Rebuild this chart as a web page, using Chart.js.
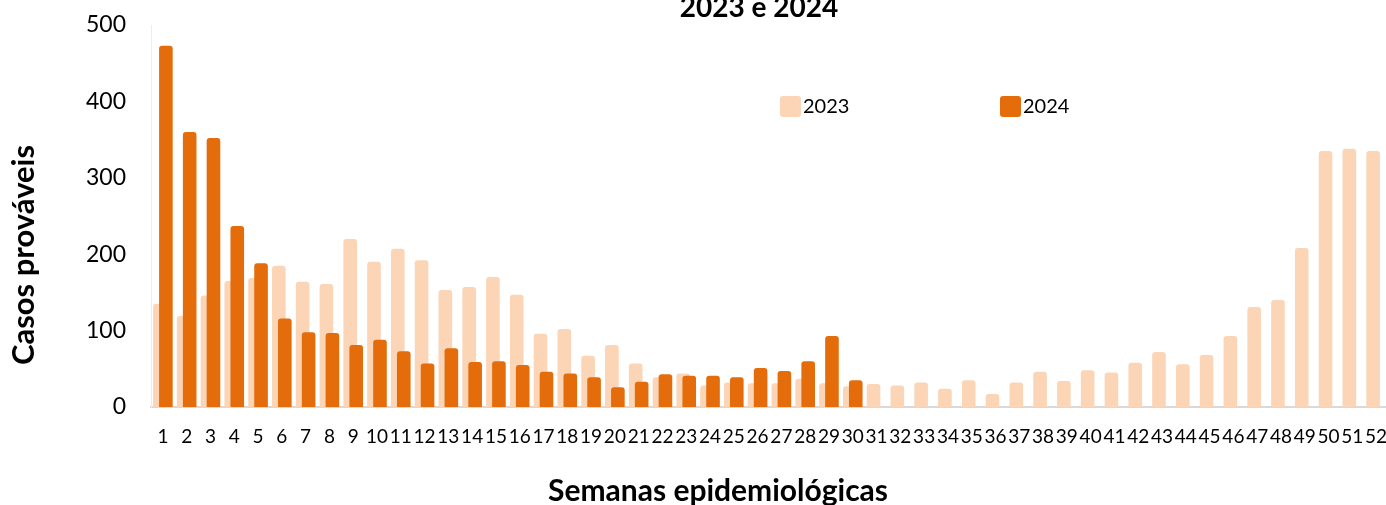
<!DOCTYPE html>
<html lang="pt-BR">
<head>
<meta charset="utf-8">
<title>Casos prováveis 2023 e 2024</title>
<script src="https://cdn.jsdelivr.net/npm/chart.js@4.4.1/dist/chart.umd.min.js"></script>
<style>
    html, body { margin: 0; padding: 0; background: #fff; overflow: hidden; }
    #caixa { position: relative; width: 1388px; height: 505px; }
</style>
</head>
<body>
<div id="caixa"><canvas id="graficoCasos" width="1388" height="505"></canvas></div>
<script>
// dados
const semanas = Array.from({ length: 52 }, (_, i) => String(i + 1));
const casos2023 = [135, 119, 146, 165, 169, 185, 164, 161, 220, 190, 207, 192, 153, 157, 170, 147,
    96, 102, 67, 81, 57, 39, 44, 28, 32, 31, 31, 37, 31, 27, 30, 28, 32, 24, 35, 17, 32, 46, 34, 48,
    45, 58, 72, 56, 68, 93, 131, 140, 208, 335, 338, 335];
const casos2024 = [473, 360, 352, 237, 188, 116, 98, 97, 81, 88, 73, 57, 77, 59, 60, 55,
    46, 44, 39, 26, 33, 43, 41, 41, 39, 51, 47, 60, 93, 35];
const ticksY = [0, 100, 200, 300, 400, 500];

const corClara = '#FBD5B5';
const corEscura = '#E46C0A';
const fonte = 'Lato, "Open Sans", sans-serif';

// 2023 fica atras de 2024 (chart.js desenha o primeiro dataset por cima)
const ordemDesenho = {
    id: 'ordemDesenho',
    beforeDatasetsDraw(chart) {
        chart.getDatasetMeta(0).controller.draw();
    },
    beforeDatasetDraw(chart, args) {
        if (args.index === 0) return false;
    }
};

// titulos e legenda desenhados por cima (posicoes como no original)
const textosExtras = {
    id: 'textosExtras',
    afterDraw(chart) {
        const ctx = chart.ctx;
        ctx.save();
        ctx.fillStyle = '#000';
        ctx.textBaseline = 'alphabetic';
        ctx.textAlign = 'center';

        // titulo cortado no topo
        ctx.font = `bold 28px ${fonte}`;
        ctx.fillText('2023 e 2024', 759, 17);

        // eixo x
        ctx.font = `bold 30px ${fonte}`;
        ctx.fillText('Semanas epidemiológicas', 718, 501);

        // eixo y
        ctx.save();
        ctx.translate(34, 255);
        ctx.rotate(-Math.PI / 2);
        ctx.font = `bold 31px ${fonte}`;
        ctx.fillText('Casos prováveis', 0, 0);
        ctx.restore();

        // legenda
        const posLegenda = [780, 1000];
        ctx.font = `20px ${fonte}`;
        ctx.textAlign = 'left';
        ctx.textBaseline = 'middle';
        chart.data.datasets.forEach((ds, i) => {
            const x = posLegenda[i];
            ctx.fillStyle = ds.backgroundColor;
            ctx.beginPath();
            ctx.roundRect(x, 96, 21, 21, 3);
            ctx.fill();
            ctx.fillStyle = '#000';
            ctx.fillText(ds.label, x + 23, 107);
        });
        ctx.restore();
    }
};

const contexto = document.getElementById('graficoCasos').getContext('2d');
new Chart(contexto, {
    type: 'bar',
    data: {
        labels: semanas,
        datasets: [
            {
                label: '2023',
                data: casos2023,
                backgroundColor: corClara,
                borderRadius: 3,
                categoryPercentage: 0.504,
                barPercentage: 2.27
            },
            {
                label: '2024',
                data: casos2024,
                backgroundColor: corEscura,
                borderRadius: 3,
                categoryPercentage: 0.504,
                barPercentage: 2.27
            }
        ]
    },
    options: {
        responsive: false,
        animation: false,
        layout: { padding: { top: 25, right: 0, bottom: 0, left: 0 } },
        plugins: {
            legend: { display: false },
            tooltip: { enabled: false },
            title: { display: false }
        },
        scales: {
            x: {
                z: 1,
                grid: { display: false, drawTicks: false },
                border: { display: true, color: '#D9D9D9', width: 2 },
                ticks: {
                    color: '#000',
                    font: { family: fonte, size: 19 },
                    autoSkip: false,
                    maxRotation: 0,
                    padding: 18
                },
                afterFit(scale) {
                    scale.height = 98;
                    scale.paddingLeft = 0;
                    scale.paddingRight = 0;
                }
            },
            y: {
                min: 0,
                max: 500,
                grid: { display: false, drawTicks: false },
                border: { display: true, color: '#EDEDED', width: 1 },
                afterBuildTicks(scale) { scale.ticks = ticksY.map(v => ({ value: v })); },
                ticks: {
                    color: '#000',
                    font: { family: fonte, size: 23 },
                    padding: 25
                },
                afterFit(scale) {
                    scale.width = 151;
                    scale.paddingTop = 0;
                    scale.paddingBottom = 0;
                }
            }
        }
    },
    plugins: [ordemDesenho, textosExtras]
});
</script>
</body>
</html>
